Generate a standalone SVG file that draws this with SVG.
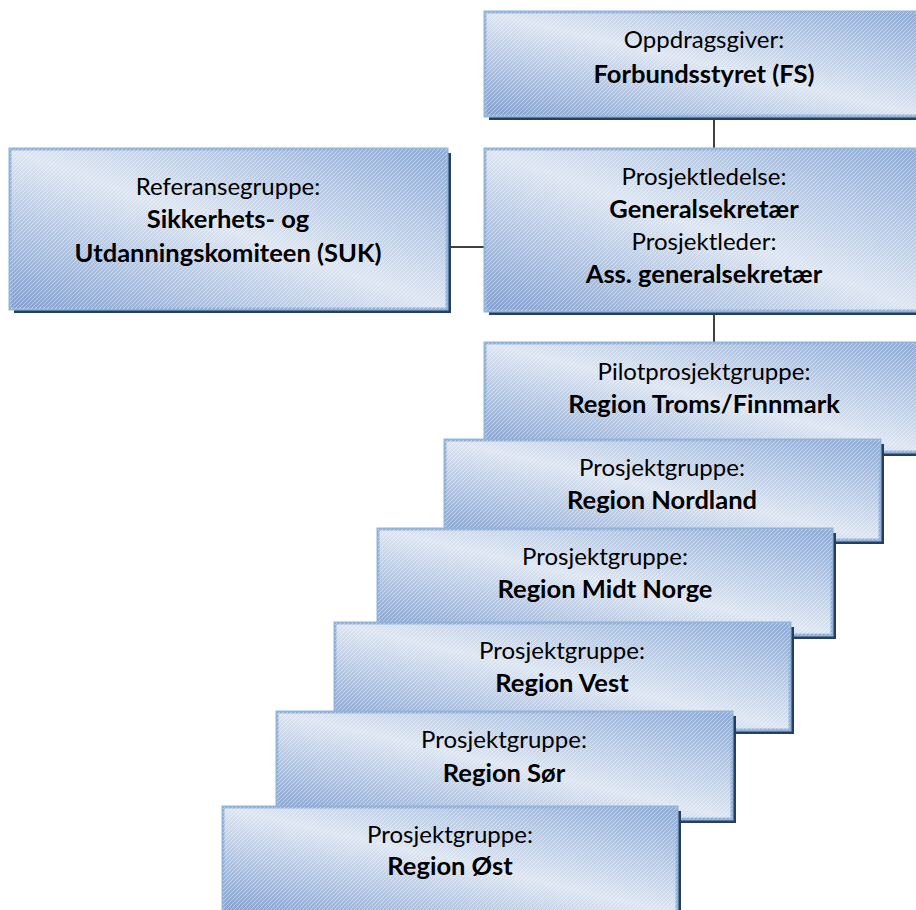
<svg xmlns="http://www.w3.org/2000/svg" width="916" height="910" viewBox="0 0 916 910">
<defs>
<linearGradient id="g" x1="0" y1="1" x2="1" y2="0">
<stop offset="0" stop-color="#839fcd"/>
<stop offset="0.5" stop-color="#dde5f0"/>
<stop offset="1" stop-color="#8da9d3"/>
</linearGradient>
<pattern id="h" patternUnits="userSpaceOnUse" width="4" height="4">
<path d="M-1,1 l2,-2 M0,4 l4,-4 M3,5 l2,-2" stroke="#ffffff" stroke-opacity="0.4" stroke-width="1"/>
</pattern>
<style>
.sh{fill:#243f60}
.bx{fill:url(#g);stroke:#95b3d7;stroke-width:3}
.ht{fill:url(#h);stroke:none}
text{font-family:Lato,"Open Sans","Liberation Sans",sans-serif;font-size:24px;fill:#000;text-anchor:middle}
.b{font-weight:bold;font-size:25.5px}
.c{stroke:#000;stroke-width:1.5;fill:none}
</style>
</defs>
<g id="connectors">
<line class="c" x1="714" y1="116" x2="714" y2="149"/>
<line class="c" x1="447" y1="247" x2="485" y2="247"/>
<line class="c" x1="714" y1="312" x2="714" y2="343"/>
</g>
<g id="oppdragsgiver">
<rect class="sh" x="489" y="16" width="438" height="104"/>
<rect class="bx" x="485" y="12" width="438" height="104"/>
<rect class="ht" x="485" y="12" width="438" height="104"/>
<text x="704" y="48">Oppdragsgiver:</text>
<text class="b" x="704" y="83">Forbundsstyret (FS)</text>
</g>
<g id="referansegruppe">
<rect class="sh" x="14" y="153" width="437" height="160"/>
<rect class="bx" x="10" y="149" width="437" height="160"/>
<rect class="ht" x="10" y="149" width="437" height="160"/>
<text x="228" y="195">Referansegruppe:</text>
<text class="b" x="228" y="228">Sikkerhets- og</text>
<text class="b" x="228" y="262">Utdanningskomiteen (SUK)</text>
</g>
<g id="prosjektledelse">
<rect class="sh" x="489" y="153" width="438" height="162"/>
<rect class="bx" x="485" y="149" width="438" height="162"/>
<rect class="ht" x="485" y="149" width="438" height="162"/>
<text x="704" y="185">Prosjektledelse:</text>
<text class="b" x="704" y="218">Generalsekretær</text>
<text x="704" y="250">Prosjektleder:</text>
<text class="b" x="704" y="283">Ass. generalsekretær</text>
</g>
<g id="pilot">
<rect class="sh" x="489" y="347" width="438" height="109"/>
<rect class="bx" x="485" y="343" width="438" height="109"/>
<rect class="ht" x="485" y="343" width="438" height="109"/>
<text x="704" y="380">Pilotprosjektgruppe:</text>
<text class="b" x="704" y="413">Region Troms/Finnmark</text>
</g>
<g id="nordland">
<rect class="sh" x="449" y="444" width="435" height="100"/>
<rect class="bx" x="445" y="440" width="435" height="100"/>
<rect class="ht" x="445" y="440" width="435" height="100"/>
<text x="662" y="476">Prosjektgruppe:</text>
<text class="b" x="662" y="509">Region Nordland</text>
</g>
<g id="midtnorge">
<rect class="sh" x="382" y="533" width="454" height="106"/>
<rect class="bx" x="378" y="529" width="454" height="106"/>
<rect class="ht" x="378" y="529" width="454" height="106"/>
<text x="605" y="565">Prosjektgruppe:</text>
<text class="b" x="605" y="598">Region Midt Norge</text>
</g>
<g id="vest">
<rect class="sh" x="339" y="627" width="455" height="107"/>
<rect class="bx" x="335" y="623" width="455" height="107"/>
<rect class="ht" x="335" y="623" width="455" height="107"/>
<text x="562" y="659">Prosjektgruppe:</text>
<text class="b" x="562" y="692">Region Vest</text>
</g>
<g id="sor">
<rect class="sh" x="281" y="716" width="455" height="107"/>
<rect class="bx" x="277" y="712" width="455" height="107"/>
<rect class="ht" x="277" y="712" width="455" height="107"/>
<text x="504" y="748">Prosjektgruppe:</text>
<text class="b" x="504" y="782">Region Sør</text>
</g>
<g id="ost">
<rect class="sh" x="227" y="811" width="454" height="107"/>
<rect class="bx" x="223" y="807" width="454" height="107"/>
<rect class="ht" x="223" y="807" width="454" height="107"/>
<text x="450" y="843">Prosjektgruppe:</text>
<text class="b" x="450" y="875">Region Øst</text>
</g>
</svg>
